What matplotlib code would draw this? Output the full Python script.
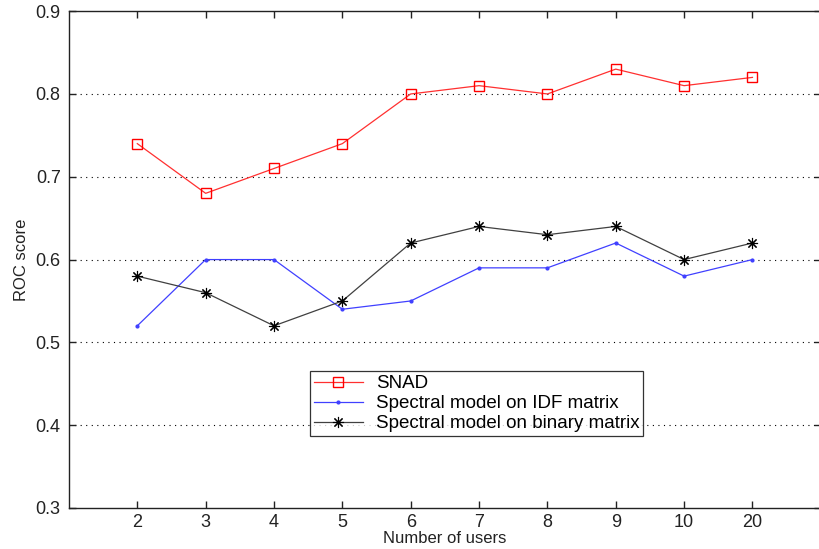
#ROC score vs number of users, MATLAB-ish style line chart

import matplotlib
matplotlib.use("Agg")
import matplotlib.pyplot as plt
import numpy as np

users = ["2", "3", "4", "5", "6", "7", "8", "9", "10", "20"]
snad = [0.74, 0.68, 0.71, 0.74, 0.80, 0.81, 0.80, 0.83, 0.81, 0.82]
idf = [0.52, 0.60, 0.60, 0.54, 0.55, 0.59, 0.59, 0.62, 0.58, 0.60]
binary = [0.58, 0.56, 0.52, 0.55, 0.62, 0.64, 0.63, 0.64, 0.60, 0.62]
y_ticks = [0.3, 0.4, 0.5, 0.6, 0.7, 0.8, 0.9]

plt.rcParams['font.family'] = ['Liberation Sans', 'DejaVu Sans']

fig = plt.figure(figsize=(8.19, 5.49), dpi=100)
ax = fig.add_axes([0.0842, 0.0747, 0.918, 0.905])

x = np.arange(1, len(users) + 1)

#dotted grid lines behind the data
for yv in y_ticks[1:-1]:
	ax.axhline(yv, color="black", linestyle=(0, (1, 4)), linewidth=0.8, zorder=0)

ax.plot(x, snad, color="#ff3030", linewidth=0.9, marker="s", markersize=7,
	markerfacecolor="none", markeredgecolor="red", markeredgewidth=1.0, label="SNAD")
ax.plot(x, idf, color="#4040ff", linewidth=0.9, marker=".", markersize=4,
	label="Spectral model on IDF matrix")
ax.plot(x, binary, color="#404040", linewidth=0.9, marker=(8, 2, 0), markersize=8,
	markeredgecolor="black", markeredgewidth=0.8, label="Spectral model on binary matrix")

ax.set_xlim(0, 11)
ax.set_ylim(0.3, 0.9)
ax.set_xticks(x)
ax.set_xticklabels(users)
ax.set_yticks(y_ticks)
ax.set_yticklabels(["%.1f" % v for v in y_ticks])

ax.tick_params(direction="in", length=5, width=1, labelsize=13, colors="#222222",
	top=True, right=True, pad=6)
ax.tick_params(axis="x", pad=4)
for s in ax.spines.values():
	s.set_linewidth(1.0)
	s.set_color("#222222")

ax.set_xlabel("Number of users", fontsize=12, color="#222222", labelpad=0)
ax.set_ylabel("ROC score", fontsize=12, color="#222222", labelpad=5)

leg = ax.legend(loc="lower left", bbox_to_anchor=(0.321, 0.145), fontsize=13.5,
	frameon=True, fancybox=False, edgecolor="black", borderpad=0.2,
	labelspacing=0.15, handlelength=2.6, handletextpad=0.7, borderaxespad=0)
leg.get_frame().set_linewidth(0.9)

fig.savefig("out.png", dpi=100)
